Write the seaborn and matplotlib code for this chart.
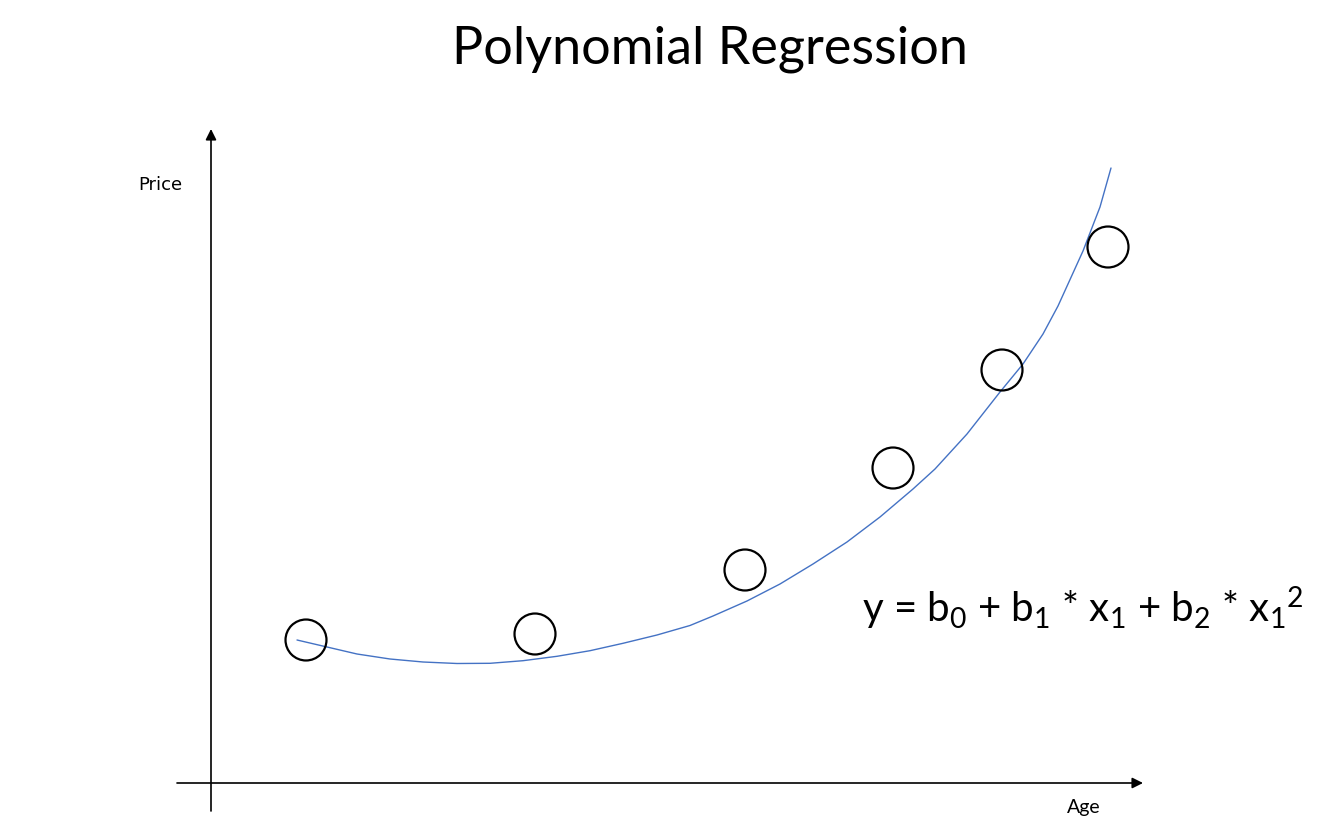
import matplotlib
matplotlib.use("Agg")
import matplotlib.pyplot as plt
import seaborn as sns
import numpy as np

age = [0.95, 3.24, 5.34, 6.82, 7.91, 8.97]
price = [1.43, 1.49, 2.13, 3.15, 4.13, 5.36]

# Points
curve_age = [0.86, 1.16, 1.46, 1.79, 2.12, 2.46, 2.79, 3.12, 3.46, 3.79, 4.12,
             4.46, 4.79, 5.02, 5.36, 5.69, 6.02, 6.36, 6.69, 7.02, 7.24, 7.56,
             7.89, 8.12, 8.32, 8.47, 8.72, 8.89, 9.00]
curve_price = [1.43, 1.36, 1.29, 1.24, 1.21, 1.195, 1.197, 1.223, 1.267, 1.323, 1.397,
               1.48, 1.575, 1.67, 1.82, 1.99, 2.19, 2.41, 2.66, 2.94, 3.14, 3.49,
               3.91, 4.19, 4.49, 4.77, 5.32, 5.76, 6.15]

title = "Polynomial Regression"
xlabel = "Age"
ylabel = "Price"
equation = r"y = b$_0$ + b$_1$ * x$_1$ + b$_2$ * x$_1{}^2$"

sns.set_theme(style="white")
plt.rcParams['font.family'] = ['Lato', 'DejaVu Sans']
plt.rcParams['mathtext.default'] = 'regular'

fig = plt.figure(figsize=(13.25, 8.28), dpi=100)
ax = fig.add_axes([0, 0, 1, 1])

sns.lineplot(x=curve_age, y=curve_price, sort=False, color='#4472C4', lw=1.0, ax=ax)
sns.scatterplot(x=age, y=price, s=870, marker='o', facecolors='none',
                edgecolors='black', linewidth=1.6, ax=ax, zorder=3)

ax.set_xlim(-2.11, 11.14)
ax.set_ylim(-0.44, 7.84)
ax.axis('off')

arrow = dict(arrowstyle='-|>', color='black', lw=1.2, mutation_scale=16,
             shrinkA=0, shrinkB=0)
ax.annotate('', xy=(9.32, 0), xytext=(-0.34, 0), arrowprops=arrow)
ax.annotate('', xy=(0, 6.54), xytext=(0, -0.28), arrowprops=arrow)

fig.text(0.536, 0.94, title, ha='center', va='center', fontsize=37.5, color='black')
fig.text(0.1208, 0.7766, ylabel, ha='center', va='center', fontsize=13,
         family=['DejaVu Sans'], color='black')
fig.text(0.818, 0.0242, xlabel, ha='center', va='center', fontsize=14, color='black')
fig.text(0.6506, 0.2488, equation, ha='left', va='baseline', fontsize=29, color='black')

fig.savefig("out.png", dpi=100)
